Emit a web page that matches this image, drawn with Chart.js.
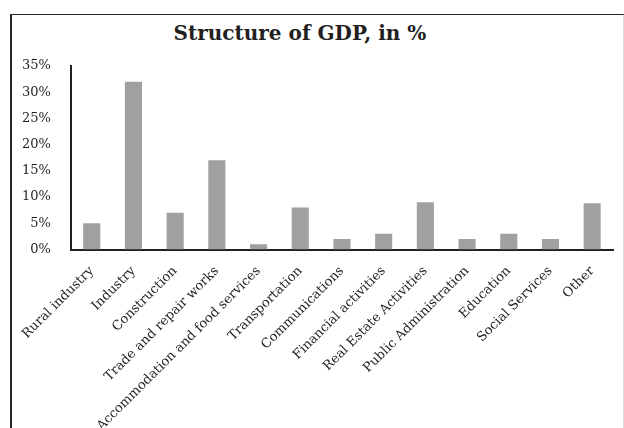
<!DOCTYPE html>
<html>
<head>
<meta charset="utf-8">
<script src="https://cdn.jsdelivr.net/npm/chart.js@4"></script>
<style>
  body { margin: 0; background: #fff; width: 624px; height: 428px; overflow: hidden; position: relative; }
  #frame { position: absolute; left: 10px; top: 14px; width: 611px; height: 440px;
           border-left: 2px solid #2a2526; border-top: 1px solid #2a2526; border-right: 2px solid #d8d8d8; }
  #title { position: absolute; left: 0; width: 600px; top: 21px; text-align: center;
           font: bold 20px "DejaVu Serif", serif; color: #231f20; }
  #wrap { position: absolute; left: 0; top: 0; width: 624px; height: 433px; }
</style>
</head>
<body>
<div id="frame"></div>
<div id="title">Structure of GDP, in %</div>
<div id="wrap"><canvas id="gdp"></canvas></div>
<script>
const sectors = [
    "Rural industry",
    "Industry",
    "Construction",
    "Trade and repair works",
    "Accommodation and food services",
    "Transportation",
    "Communications",
    "Financial activities",
    "Real Estate Activities",
    "Public Administration",
    "Education",
    "Social Services",
    "Other"];
const shares = [5, 32, 7, 17, 1, 8, 2, 3, 9, 2, 3, 2, 8.8];
const yTicks = [0, 5, 10, 15, 20, 25, 30, 35];

const ink = '#231f20';

new Chart("gdp", {
    type: "bar",
    data: {
        labels: sectors,
        datasets: [{
            label: "Structure of GDP",
            data: shares,
            backgroundColor: '#a0a0a0',
            barPercentage: 0.41,
            categoryPercentage: 1
        }]
    },
    options: {
        responsive: true,
        maintainAspectRatio: false,
        animation: false,
        layout: {padding: {top: 66, right: 11, bottom: 0, left: 10}},
        plugins: {
            legend: {display: false},
            title: {display: false},
            tooltip: {enabled: false}
        },
        scales: {
            x: {
                grid: {display: false},
                border: {color: ink, width: 2},
                ticks: {
                    color: ink,
                    maxRotation: 45,
                    minRotation: 45,
                    autoSkip: false,
                    padding: 6,
                    font: {family: "DejaVu Serif", size: 13}
                }
            },
            y: {
                min: yTicks[0],
                max: yTicks[yTicks.length - 1],
                grid: {display: false},
                border: {color: ink, width: 2},
                afterBuildTicks: (axis) => { axis.ticks = yTicks.map(v => ({value: v})); },
                ticks: {
                    color: ink,
                    padding: 12,
                    font: {family: "DejaVu Serif", size: 13},
                    callback: (v) => v + '%'
                }
            }
        }
    }
});
</script>
</body>
</html>
